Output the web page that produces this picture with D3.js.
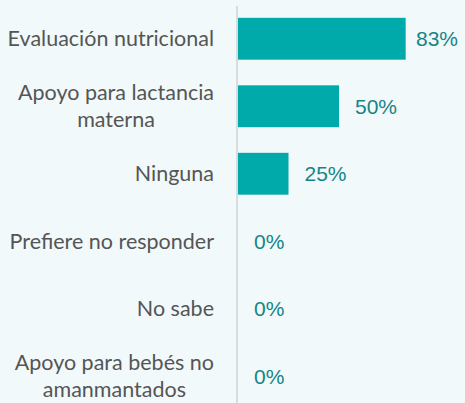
<!DOCTYPE html>
<html>
<head>
<meta charset="utf-8">
<script src="https://cdn.jsdelivr.net/npm/d3@7"></script>
<style>
  html, body { margin: 0; padding: 0; background: #f1f9fb; }
  svg { display: block; }
</style>
</head>
<body>
<div id="chart"></div>
<script>
const categories = [
    ['Evaluación nutricional'],
    ['Apoyo para lactancia', 'materna'],
    ['Ninguna'],
    ['Prefiere no responder'],
    ['No sabe '],
    ['Apoyo para bebés no', 'amanmantados']
];
const values = [83, 50, 25, 0, 0, 0];
const valueLabels = values.map(v => v + '%');

const width = 465, height = 403;
const axisX = 237;

const svg = d3.select('#chart')
    .append('svg')
    .attr('width', width)
    .attr('height', height);

svg.append('rect')
    .attr('width', width)
    .attr('height', height)
    .attr('fill', '#f1f9fb');

const idx = d3.range(values.length);

const y = d3.scaleBand()
    .domain(idx)
    .range([5, 410])
    .paddingInner(0.38)
    .paddingOuter(0.19);

const x = d3.scaleLinear()
    .domain([0, 100])
    .range([axisX + 1, axisX + 203]);

// bars
svg.selectAll('rect.bar')
    .data(idx)
    .enter()
    .append('rect')
    .attr('class', 'bar')
    .attr('x', x(0))
    .attr('y', i => y(i))
    .attr('width', i => x(values[i]) - x(0))
    .attr('height', y.bandwidth())
    .attr('fill', '#00aaaa');

// axis line
svg.append('line')
    .attr('x1', axisX)
    .attr('x2', axisX)
    .attr('y1', 6)
    .attr('y2', height)
    .attr('stroke', '#d8dcdc')
    .attr('stroke-width', 2);

// value labels
svg.selectAll('text.val')
    .data(idx)
    .enter()
    .append('text')
    .attr('class', 'val')
    .attr('x', i => Math.min(x(values[i]) + 16, 416))
    .attr('y', i => y(i) + y.bandwidth() / 2)
    .attr('dy', '0.36em')
    .style('font-family', '"Liberation Sans", Arial, sans-serif')
    .style('font-size', '21px')
    .style('fill', '#178485')
    .text(i => valueLabels[i]);

// category labels, lines centred in a right-aligned block
const labelRight = 214;
const lineH = 27;
idx.forEach(i => {
    const lines = categories[i];
    const g = svg.append('g');
    const texts = g.selectAll('text')
        .data(lines)
        .enter()
        .append('text')
        .attr('y', (d, k) => y(i) + y.bandwidth() / 2 + (k - (lines.length - 1) / 2) * lineH)
        .attr('dy', '0.35em')
        .attr('text-anchor', 'middle')
        .style('font-family', 'Lato, "Open Sans", sans-serif')
        .style('font-size', '21.5px')
        .style('fill', '#555555')
        .text(d => d);
    let maxW = 0;
    texts.each(function () { maxW = Math.max(maxW, this.getComputedTextLength()); });
    texts.attr('x', labelRight - maxW / 2);
});
</script>
</body>
</html>
